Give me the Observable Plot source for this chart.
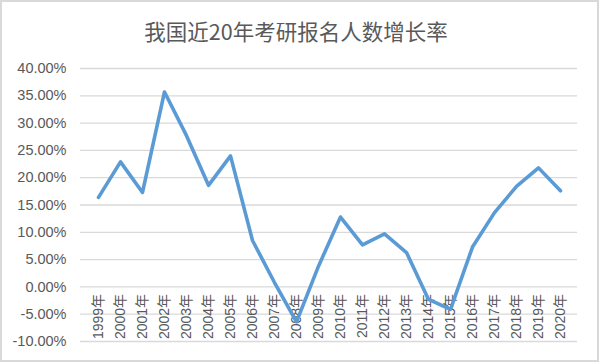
<!DOCTYPE html>
<html><head><meta charset="utf-8">
<script src="https://cdn.jsdelivr.net/npm/d3@7"></script>
<script src="https://cdn.jsdelivr.net/npm/@observablehq/plot@0.6"></script>
<style>
body{margin:0;background:#fff;}
#wrap{position:relative;width:599px;height:362px;overflow:hidden;}
#border{position:absolute;left:0;top:0;right:0;bottom:0;border:2px solid #d9d9d9;pointer-events:none;}
</style>
</head><body>
<div id="wrap"><div id="border"></div></div>
<script>
const title = "我国近20年考研报名人数增长率";
const years = ["1999年","2000年","2001年","2002年","2003年","2004年","2005年","2006年","2007年","2008年","2009年","2010年","2011年","2012年","2013年","2014年","2015年","2016年","2017年","2018年","2019年","2020年"];
const rates = [0.164,0.229,0.173,0.357,0.277,0.186,0.240,0.085,0.008,-0.064,0.038,0.128,0.077,0.097,0.063,-0.023,-0.041,0.073,0.136,0.184,0.218,0.176];
const yTicks = [-0.10,-0.05,0,0.05,0.10,0.15,0.20,0.25,0.30,0.35,0.40];

const data = years.map((y, i) => ({year: y, rate: rates[i]}));
const fmt = d => (d * 100).toFixed(2) + "%";
const font = "'Liberation Sans','Noto Sans CJK SC',sans-serif";

const chart = Plot.plot({
  width: 599,
  height: 362,
  marginTop: 68,
  marginBottom: 21,
  marginLeft: 80,
  marginRight: 22,
  style: {fontFamily: font, color: "#595959", background: "transparent", overflow: "visible"},
  x: {type: "point", domain: years, padding: 0.5, align: 0.5, axis: null},
  y: {domain: [-0.10, 0.40], ticks: yTicks, tickFormat: fmt, tickSize: 0, tickPadding: 14, label: null},
  marks: [
    Plot.ruleY(yTicks, {stroke: "#d9d9d9", strokeWidth: 1.3}),
    Plot.axisY({ticks: yTicks, tickFormat: fmt, tickSize: 0, tickPadding: 14, label: null, fontSize: 14.5, fill: "#595959"}),
    Plot.text(years, {x: d => d, y: () => 0, text: d => d, rotate: -90, textAnchor: "end", dy: 7, fontSize: 14, fill: "#595959"}),
    Plot.line(data, {x: "year", y: "rate", stroke: "#5b9bd5", strokeWidth: 3.6, strokeLinejoin: "round", strokeLinecap: "round"}),
    Plot.text([title], {frameAnchor: "top", lineAnchor: "middle", dx: -33, dy: -35, text: d => d, fontSize: 21.5, fill: "#595959", fontFamily: "'Noto Sans CJK SC',sans-serif"})
  ]
});
document.getElementById("wrap").insertBefore(chart, document.getElementById("border"));
</script>
</body></html>
